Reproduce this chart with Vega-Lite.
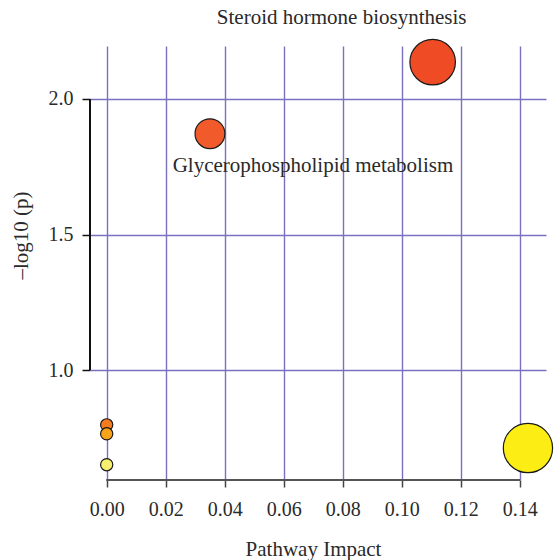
{
  "$schema": "https://vega.github.io/schema/vega-lite/v6.json",
  "width": 456,
  "height": 434,
  "autosize": {"type": "none"},
  "padding": {"left": 90, "top": 46, "right": 8, "bottom": 80},
  "background": "white",
  "config": {
    "view": {"stroke": null},
    "font": "Liberation Serif",
    "axis": {
      "labelFont": "Liberation Serif",
      "titleFont": "Liberation Serif",
      "labelFontSize": 20,
      "titleFontSize": 21,
      "titleFontWeight": "normal",
      "labelColor": "#2a2a2a",
      "titleColor": "#2a2a2a",
      "gridColor": "#7a70bf",
      "gridWidth": 1.4,
      "gridOpacity": 1,
      "domain": false
    }
  },
  "data": {
    "values": [
      {"name": "Steroid hormone biosynthesis", "impact": 0.1105, "logp": 2.136},
      {"name": "Glycerophospholipid metabolism", "impact": 0.035, "logp": 1.872},
      {"name": "", "impact": 0.1428, "logp": 0.7125},
      {"name": "", "impact": 0.0, "logp": 0.798},
      {"name": "", "impact": 0.0, "logp": 0.765},
      {"name": "", "impact": 0.0, "logp": 0.651}
    ]
  },
  "encoding": {
    "x": {
      "field": "impact",
      "type": "quantitative",
      "scale": {"domain": [-0.00566, 0.14892], "nice": false, "zero": false},
      "axis": {
        "values": [0, 0.02, 0.04, 0.06, 0.08, 0.1, 0.12, 0.14],
        "format": ".2f",
        "title": "Pathway Impact",
        "tickColor": "#444444",
        "tickSize": 7,
        "tickWidth": 1.5,
        "labelBaseline": "alphabetic",
        "labelPadding": 28,
        "titleX": 223,
        "titleY": 75,
        "titleBaseline": "alphabetic",
        "titleAnchor": "middle"
      }
    },
    "y": {
      "field": "logp",
      "type": "quantitative",
      "scale": {"domain": [0.5946, 2.1954], "nice": false, "zero": false},
      "axis": {
        "values": [1, 1.5, 2],
        "format": ".1f",
        "title": "–log10 (p)",
        "tickColor": "#111111",
        "tickSize": 8,
        "tickWidth": 1.5,
        "labelPadding": 9,
        "labelBaseline": "middle",
        "titleX": -63,
        "titleY": 189,
        "titleAngle": 270,
        "titleBaseline": "alphabetic",
        "titleAnchor": "middle"
      }
    }
  },
  "layer": [
    {
      "mark": {"type": "rule", "color": "#555555", "strokeWidth": 1.5},
      "encoding": {
        "x": {"datum": 0},
        "x2": {"datum": 0.14},
        "y": {"datum": 0.5946}
      }
    },
    {
      "mark": {"type": "rule", "color": "#111111", "strokeWidth": 1.3},
      "encoding": {
        "x": {"datum": -0.00566},
        "y": {"datum": 1},
        "y2": {"datum": 2}
      }
    },
    {
      "mark": {"type": "circle", "opacity": 1, "stroke": "#1a1a1a", "strokeWidth": 1.2},
      "encoding": {
        "size": {
          "field": "impact",
          "type": "quantitative",
          "scale": {"domain": [0, 0.035, 0.1105, 0.1428], "range": [150, 887, 2075, 2428]},
          "legend": null
        },
        "color": {
          "field": "logp",
          "type": "quantitative",
          "scale": {
            "domain": [0.651, 0.7125, 0.765, 0.798, 1.872, 2.136],
            "range": ["#f6ee6f", "#fcee15", "#f9a31b", "#f47b20", "#f15a2b", "#ef4b24"]
          },
          "legend": null
        }
      }
    },
    {
      "transform": [{"filter": "datum.name === 'Steroid hormone biosynthesis'"}],
      "mark": {"type": "text", "fontSize": 21, "font": "Liberation Serif", "color": "#2a2a2a", "align": "center", "baseline": "alphabetic", "dx": -91, "dy": -38},
      "encoding": {"text": {"field": "name"}}
    },
    {
      "transform": [{"filter": "datum.name === 'Glycerophospholipid metabolism'"}],
      "mark": {"type": "text", "fontSize": 21, "font": "Liberation Serif", "color": "#2a2a2a", "align": "center", "baseline": "alphabetic", "dx": 103, "dy": 38},
      "encoding": {"text": {"field": "name"}}
    }
  ]
}
